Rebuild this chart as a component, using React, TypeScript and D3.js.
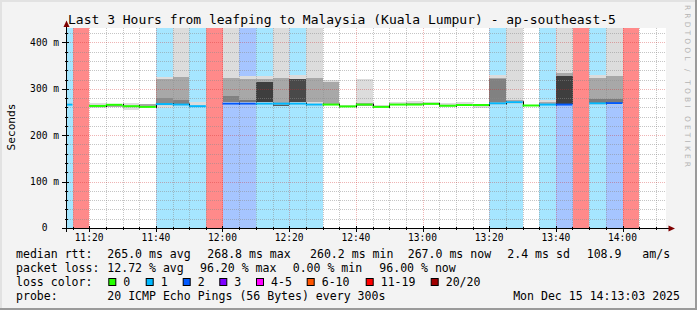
import React from "react";
import * as d3 from "d3";

const W = 697;
const H = 310;

// ---------- data ----------
const columnStart = [
  "11:10", "11:15", "11:20", "11:25", "11:30", "11:35", "11:40", "11:45", "11:50", "11:55",
  "12:00", "12:05", "12:10", "12:15", "12:20", "12:25", "12:30", "12:35", "12:40", "12:45",
  "12:50", "12:55", "13:00", "13:05", "13:10", "13:15", "13:20", "13:25", "13:30", "13:35",
  "13:40", "13:45", "13:50", "13:55", "14:00", "14:05", "14:10",
];

// lost pings (of 20) per 5-minute step
const lossCount: (number | null)[] = [
  1, 19, 0, 0, 0, 0, 1, 1, 1, 19,
  2, 2, 1, 1, 1, 1, 0, 0, 0, 0,
  0, 0, 0, 0, 0, 0, 1, 1, 0, 1,
  2, 19, 1, 2, 19, null, null,
];

// median rtt in ms
const medianMs: (number | null)[] = [
  266, null, 263, 265.5, 262.5, 261, 267, 266, 262.5, null,
  268, 268, 268, 268, 268, 266, 266, 262, 266, 261,
  266, 266, 267.5, 263.5, 265, 265, 268.5, 271, 264, 266,
  266, null, 268.5, 269, null, null, null,
];

type Range = [number, number] | null;

// smoke: full ping spread (ms)
const smokeOuter: Range[] = [
  [265, 270], null, [259, 269.5], [260, 266], [255, 269.5], [261, 268], [259, 325], [262, 460], [262, 272], null,
  [264, 460], [264, 328], [264, 327], [262, 460], [264, 330], [263, 460], [265, 319], [260, 264], [262, 321], [260, 266],
  [264, 271], [264, 273], [264, 271], [261, 269.5], [263, 272], [259, 268], [266, 330], [268, 460], [262, 266], [264, 275],
  [264, 460], null, [266, 329], [266, 460], null, null, null,
];

// smoke: inner spread (ms)
const smokeMid: Range[] = [
  null, null, null, [261, 264], null, [263, 267.5], [269.5, 321], [269.5, 325], null, null,
  [271, 324], [271, 321], [271, 321], [266, 323], [271, 321], [272, 323], [267.5, 315], null, [262.6, 269.5], null,
  [265, 268], [265, 269], null, [264, 266], null, [265, 268], [270, 324], [270, 275], null, [266, 271],
  [268, 334], null, [270, 323], [270, 327], null, null, null,
];

// smoke: dense core (ms) and its density
const smokeCore: Range[] = [
  null, null, null, null, null, null, [268, 280], [268, 275], null, null,
  [271, 284], [271, 275], [271, 315], [262.6, 266], [271, 321], null, null, null, null, null,
  null, null, null, null, null, null, [271, 321], null, null, null,
  [268, 327], null, [270, 277], [270, 277], null, null, null,
];
const coreDensity = [
  0, 0, 0, 0, 0, 0, 0.25, 0.35, 0, 0,
  0.35, 0.45, 0.95, 0.7, 0.85, 0, 0, 0, 0, 0,
  0, 0, 0, 0, 0, 0, 0.35, 0, 0, 0,
  0.95, 0, 0.4, 0.4, 0, 0, 0,
];

const yTicks = [0, 100, 200, 300, 400];

const lossLegendLabels = ["0", "1", "2", "3", "4-5", "6-10", "11-19", "20/20"];
const lossLegendColors = ["#26ff00", "#00b8ff", "#0059ff", "#7e00ff", "#ff00ff", "#ff5500", "#ff0000", "#a00000"];

const rttStats = ["265.0 ms avg", "268.8 ms max", "260.2 ms min", "267.0 ms now", "2.4 ms sd", "108.9", "am/s"];
const lossStats = ["12.72 % avg", "96.20 % max", "0.00 % min", "96.00 % now"];
const title = "Last 3 Hours from leafping to Malaysia (Kuala Lumpur) - ap-southeast-5";
const probeText = "20 ICMP Echo Pings (56 Bytes) every 300s";
const stampText = "Mon Dec 15 14:13:03 2025";

// ---------- layout ----------
const PL = 66, PR = 666, PT = 28, PB = 228;
const rttX = [107.3, 207.3, 310, 407.7, 507.3, 586.7, 642.3];
const lossX = [107.3, 200, 292.7, 379.3];
const boxX = [108.3, 145.7, 182.7, 219.3, 256, 306.7, 365.7, 430.7];
const rowY = [257.7, 271.8, 285.9, 300];
const MONO = "'DejaVu Sans Mono', monospace";

function parseT(s: string) {
  const [h, m] = s.split(":").map(Number);
  return new Date(2025, 11, 15, h, m, 0);
}

function lineColor(c: number) {
  if (c <= 0) return lossLegendColors[0];
  if (c === 1) return lossLegendColors[1];
  if (c === 2) return lossLegendColors[2];
  if (c === 3) return lossLegendColors[3];
  if (c <= 5) return lossLegendColors[4];
  if (c <= 10) return lossLegendColors[5];
  if (c <= 19) return lossLegendColors[6];
  return lossLegendColors[7];
}
function bgColor(c: number | null) {
  if (c === null || c === 0) return null;
  if (c >= 11) return "#ff8a8a";
  return d3.interpolateRgb("#ffffff", lineColor(c))(0.35);
}

export default function App() {
  const t0 = new Date(2025, 11, 15, 11, 13, 3);
  const t1 = new Date(2025, 11, 15, 14, 13, 3);
  const x = d3.scaleTime().domain([t0, t1]).range([PL, PR]);
  const y = d3.scaleLinear().domain([0, 431]).range([PB, PT]);

  const cols = columnStart.map((s, i) => {
    const a = parseT(s);
    const b = new Date(a.getTime() + 5 * 60 * 1000);
    return { i, x0: x(a), x1: x(b) };
  });

  const minorX = d3.timeMinute.every(5)!.range(t0, t1).filter((d) => d.getMinutes() % 20 !== 0);
  const majorX = d3.timeMinute.every(20)!.range(t0, t1);
  const minorY = d3.range(0, 431, 20).filter((v) => v % 100 !== 0 && v > 0);
  const majorY = yTicks.filter((v) => v > 0);
  const fmt = d3.timeFormat("%H:%M");
  const px = (v: number) => Math.round(v) + 0.5;

  const band = (r: Range, fill: string, key: string, c: { x0: number; x1: number }) =>
    r ? (
      <rect key={key} x={c.x0} width={c.x1 - c.x0} y={y(r[1])} height={y(r[0]) - y(r[1])} fill={fill} shapeRendering="crispEdges" />
    ) : null;

  const coreShade = d3.interpolateRgb("#a8a8a8", "#383838");

  return (
    <svg width={W} height={H} style={{ position: "absolute", left: 0, top: 0, display: "block" }} fontFamily={MONO}>
      <defs>
        <clipPath id="plot">
          <rect x={PL} y={PT} width={PR - PL} height={PB - PT} />
        </clipPath>
      </defs>
      <rect x={0} y={0} width={W} height={H} fill="#f3f3f3" />
      <rect x={0} y={0} width={W} height={2} fill="#e2e2e2" />
      <rect x={0} y={0} width={2} height={H} fill="#e2e2e2" />
      <rect x={0} y={H - 2} width={W} height={2} fill="#9a9a9a" />
      <rect x={W - 2} y={0} width={2} height={H} fill="#9a9a9a" />

      <rect x={PL} y={PT} width={PR - PL} height={PB - PT} fill="#ffffff" />

      <g clipPath="url(#plot)">
        {cols.map((c) => {
          const bg = bgColor(lossCount[c.i]);
          return bg ? (
            <rect key={"bg" + c.i} x={c.x0} width={c.x1 - c.x0} y={PT} height={PB - PT} fill={bg} shapeRendering="crispEdges" />
          ) : null;
        })}
        {cols.map((c) => band(smokeOuter[c.i], "#dcdcdc", "so" + c.i, c))}
        {cols.map((c) => band(smokeMid[c.i], "#a8a8a8", "sm" + c.i, c))}
        {cols.map((c) => band(smokeCore[c.i], coreShade(coreDensity[c.i]), "sc" + c.i, c))}

        {/* grid */}
        {minorX.map((d, k) => (
          <line key={"gx" + k} x1={px(x(d))} x2={px(x(d))} y1={PT} y2={PB} stroke="rgba(140,140,140,0.5)" strokeDasharray="1,1" />
        ))}
        {minorY.map((v, k) => (
          <line key={"gy" + k} x1={PL} x2={PR} y1={px(y(v))} y2={px(y(v))} stroke="rgba(140,140,140,0.5)" strokeDasharray="1,1" />
        ))}
        {majorX.map((d, k) => (
          <line key={"mx" + k} x1={px(x(d))} x2={px(x(d))} y1={PT} y2={PB} stroke="rgba(210,40,40,0.35)" strokeDasharray="1,1" />
        ))}
        {majorY.map((v, k) => (
          <line key={"my" + k} x1={PL} x2={PR} y1={px(y(v))} y2={px(y(v))} stroke="rgba(210,40,40,0.35)" strokeDasharray="1,1" />
        ))}

        {/* median connectors */}
        {cols.map((c) => {
          if (c.i === 0) return null;
          const a = medianMs[c.i - 1];
          const b = medianMs[c.i];
          if (a === null || b === null) return null;
          const ya = y(a), yb = y(b);
          return (
            <line key={"mc" + c.i} x1={px(c.x0)} x2={px(c.x0)} y1={Math.min(ya, yb) - 1} y2={Math.max(ya, yb) + 1} stroke="#000" strokeWidth={1} />
          );
        })}
        {cols.map((c) => {
          const m = medianMs[c.i];
          const lc = lossCount[c.i];
          if (m === null || lc === null) return null;
          return (
            <line key={"md" + c.i} x1={c.x0} x2={c.x1} y1={y(m)} y2={y(m)} stroke={lineColor(lc)} strokeWidth={2} />
          );
        })}
      </g>

      {/* axes */}
      <line x1={62} x2={669} y1={PB + 0.5} y2={PB + 0.5} stroke="#000" />
      <line x1={PL + 0.5} x2={PL + 0.5} y1={232} y2={26} stroke="#000" />
      <path d={`M${PL + 0.5},20.5 L${PL + 3.5},27 L${PL - 2.5},27 Z`} fill="#7f0000" />
      <path d={`M675,${PB + 0.5} L668.5,${PB - 2.5} L668.5,${PB + 3.5} Z`} fill="#7f0000" />
      {minorX.map((d, k) => (
        <line key={"tx" + k} x1={px(x(d))} x2={px(x(d))} y1={PB - 1} y2={PB + 2} stroke="#000" />
      ))}
      {majorX.map((d, k) => (
        <line key={"tX" + k} x1={px(x(d))} x2={px(x(d))} y1={PB - 2} y2={PB + 4} stroke="#000" />
      ))}
      {minorY.map((v, k) => (
        <line key={"ty" + k} x1={PL - 1} x2={PL + 2} y1={px(y(v))} y2={px(y(v))} stroke="#000" />
      ))}
      {yTicks.map((v, k) => (
        <line key={"tY" + k} x1={PL - 4} x2={PL + 3} y1={px(y(v))} y2={px(y(v))} stroke="#000" />
      ))}

      {/* tick labels */}
      {majorX.map((d, k) => (
        <text key={"lx" + k} x={x(d)} y={241} fontSize={9.6} textAnchor="middle" fill="#000">
          {fmt(d)}
        </text>
      ))}
      {yTicks.map((v, k) => (
        <text key={"ly" + k} x={v === 0 ? 59 - 2 * 5.78 : 59} y={y(v) + 3.4} fontSize={9.6} textAnchor="end" fill="#000">
          {v === 0 ? "0" : `${v} m`}
        </text>
      ))}

      <text x={0} y={0} transform="translate(14.5,127) rotate(-90)" fontSize={11.2} textAnchor="middle" fill="#000">
        Seconds
      </text>

      <text x={68} y={24} fontSize={13} fill="#000">{title}</text>

      <text x={0} y={0} transform="translate(685,5) rotate(90)" fontSize={7.5} fontFamily="'DejaVu Sans', sans-serif" fill="#b4b4b4" textLength={162} lengthAdjust="spacing">
        RRDTOOL / TOBI OETIKER
      </text>

      {/* legend */}
      <g fontSize={11.55} fill="#000">
        <text x={16} y={rowY[0]}>median rtt:</text>
        {rttStats.map((s, k) => (
          <text key={"r" + k} x={rttX[k]} y={rowY[0]}>{s}</text>
        ))}
        <text x={16} y={rowY[1]}>packet loss:</text>
        {lossStats.map((s, k) => (
          <text key={"p" + k} x={lossX[k]} y={rowY[1]}>{s}</text>
        ))}
        <text x={16} y={rowY[2]}>loss color:</text>
        {lossLegendLabels.map((s, k) => (
          <g key={"lc" + k}>
            <rect x={boxX[k] + 0.5} y={278.5} width={7} height={7} fill={lossLegendColors[k]} stroke="#000" strokeWidth={1} />
            <text x={boxX[k] + 15} y={rowY[2]}>{s}</text>
          </g>
        ))}
        <text x={16} y={rowY[3]}>probe:</text>
        <text x={107.3} y={rowY[3]}>{probeText}</text>
        <text x={680} y={rowY[3]} textAnchor="end">{stampText}</text>
      </g>
    </svg>
  );
}
